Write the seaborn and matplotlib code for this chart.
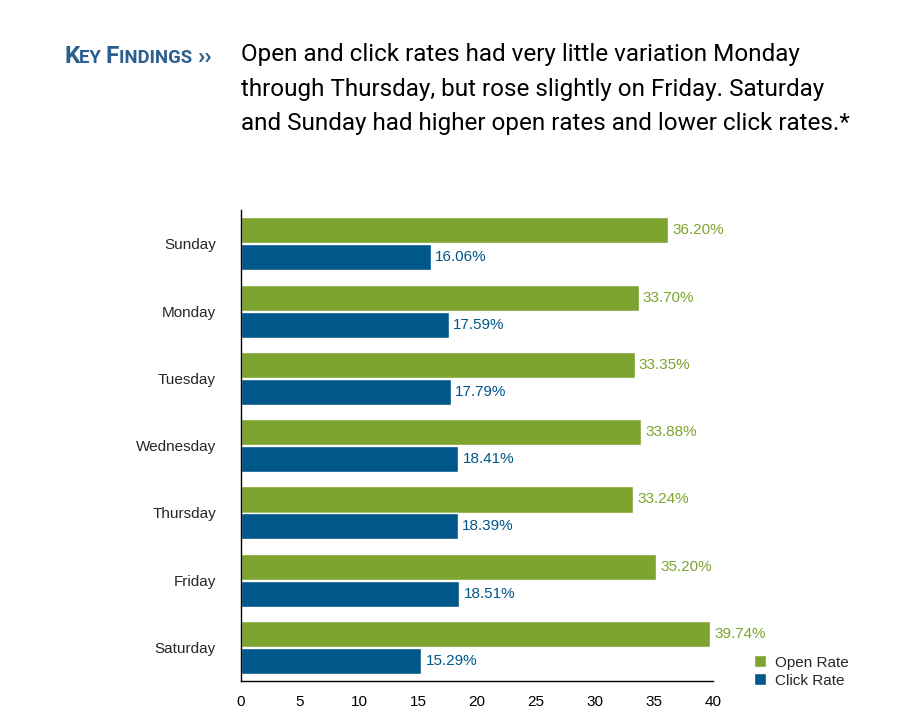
import pandas as pd
import matplotlib
matplotlib.use('Agg')
import matplotlib.pyplot as plt
import seaborn as sns

# Dados
days = ['Sunday', 'Monday', 'Tuesday', 'Wednesday', 'Thursday', 'Friday', 'Saturday']
open_rate = [36.20, 33.70, 33.35, 33.88, 33.24, 35.20, 39.74]
click_rate = [16.06, 17.59, 17.79, 18.41, 18.39, 18.51, 15.29]
series = ['Open Rate', 'Click Rate']

green = '#7ca42e'
blue = '#00578a'

df = pd.DataFrame({
    'Day': days * 2,
    'Metric': [series[0]] * len(days) + [series[1]] * len(days),
    'Rate': open_rate + click_rate,
})

sns.set_style('white')
plt.rcParams['font.family'] = ['Liberation Sans', 'DejaVu Sans']

fig = plt.figure(figsize=(9.2, 7.2), dpi=100)
ax = fig.add_axes([0.262, 0.054, 0.513, 0.654])

sns.barplot(data=df, y='Day', x='Rate', hue='Metric', orient='h',
            palette=[green, blue], width=0.8, gap=0.03, ax=ax,
            saturation=1, legend=True)

# Rótulos de valor
for cont, col in zip(ax.containers, [green, blue]):
    ax.bar_label(cont, labels=[f'{v:.2f}%' for v in cont.datavalues],
                 padding=3, color=col, fontsize=11)

ax.set_xlim(0, 40)
ax.set_ylim(6.5, -0.5)
ax.set_xticks(range(0, 41, 5))
ax.set_xlabel('')
ax.set_ylabel('')
sns.despine(ax=ax)
for s in ['left', 'bottom']:
    ax.spines[s].set_color('black')
    ax.spines[s].set_linewidth(1)
ax.tick_params(axis='x', direction='in', length=11, width=1, pad=10,
               labelsize=11, colors='black')
ax.tick_params(axis='y', direction='out', length=12, width=1, pad=6,
               labelsize=11, color='#555555')

ax.legend(loc='lower left', bbox_to_anchor=(1.07, -0.03), frameon=False,
          fontsize=11, handlelength=0.8, handleheight=0.8,
          handletextpad=0.6, labelspacing=0.25, borderpad=0)

# "Key Findings" em versalete (small caps)
renderer = fig.canvas.get_renderer()
x = 64 / 920
y = 1 - 63 / 720
pieces = [('K', 17.5), ('EY ', 13.3), ('F', 17.5), ('INDINGS ', 13.3), ('\u203a\u203a', 17.5)]
for txt, size in pieces:
    t = fig.text(x, y, txt, color='#2a5f8f', fontsize=size, fontweight='bold',
                 family=['Roboto', 'DejaVu Sans'], va='baseline')
    bb = t.get_window_extent(renderer)
    x += bb.width / 920

# Texto de destaque
fig.text(0.262, 1 - 43 / 720,
         'Open and click rates had very little variation Monday\n'
         'through Thursday, but rose slightly on Friday. Saturday\n'
         'and Sunday had higher open rates and lower click rates.*',
         fontsize=17.5, family=['Roboto', 'DejaVu Sans'], linespacing=1.65,
         va='top', color='black')

fig.savefig('out.png', dpi=100)
